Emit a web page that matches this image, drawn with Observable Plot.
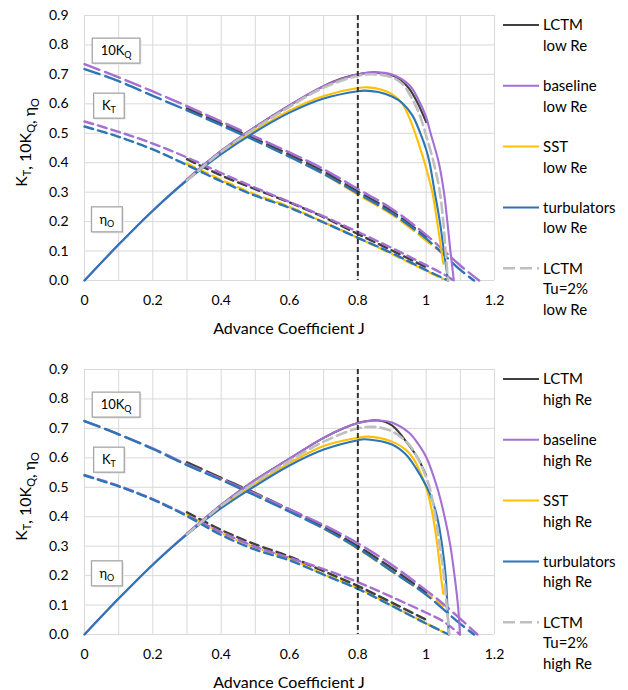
<!DOCTYPE html>
<html><head><meta charset="utf-8">
<script src="https://cdn.jsdelivr.net/npm/d3@7"></script>
<script src="https://cdn.jsdelivr.net/npm/@observablehq/plot@0.6"></script>
<style>
body{margin:0;background:#fff;font-family:Lato,sans-serif;}
#wrap{position:relative;width:628px;height:690px;overflow:hidden;background:#fff}
.chart{position:absolute;left:0}
.legend{position:absolute;left:500px}
</style></head><body><div id="wrap"></div>
<script>
// ---------- categories / ticks ----------
const series = ["LCTM","baseline","SST","turbulators","LCTM Tu=2%"];
const seriesColors = ["#404040","#A66FD4","#FFC000","#2E75B6","#BFBFBF"];
const xTicks = [0,0.2,0.4,0.6,0.8,1,1.2];
const xGrid = [0,0.1,0.2,0.3,0.4,0.5,0.6,0.7,0.8,0.9,1.0,1.1,1.2];
const yTicks = [0,0.1,0.2,0.3,0.4,0.5,0.6,0.7,0.8,0.9];
const designJ = [0.8];
const xTitle = "Advance Coefficient J";
const reLabels = ["low Re","high Re"];

// ---------- top chart (low Re): [J, value] ----------
const topEta_LCTM = [[0.3,0.343],[0.4,0.44],[0.5,0.522],[0.6,0.595],[0.7,0.66],[0.75,0.685],[0.8,0.70],[0.85,0.707],[0.9,0.697],[0.925,0.68],[0.95,0.652],[0.975,0.603],[1.0,0.538]];
const topEta_base = [[0,0],[0.1,0.122],[0.2,0.238],[0.3,0.343],[0.4,0.44],[0.5,0.522],[0.6,0.595],[0.7,0.66],[0.8,0.70],[0.85,0.707],[0.9,0.70],[0.95,0.665],[0.975,0.62],[1.0,0.555],[1.013,0.50],[1.037,0.40],[1.052,0.30],[1.062,0.20],[1.071,0.10],[1.081,0]];
const topEta_SST = [[0.3,0.34],[0.4,0.433],[0.5,0.51],[0.6,0.577],[0.7,0.627],[0.8,0.654],[0.83,0.656],[0.87,0.648],[0.9,0.633],[0.93,0.60],[0.95,0.555],[0.968,0.50],[0.985,0.44],[0.998,0.39],[1.018,0.30],[1.032,0.20],[1.045,0.10],[1.05,0.057]];
const topEta_turb = [[0,0],[0.1,0.122],[0.2,0.237],[0.3,0.34],[0.4,0.429],[0.5,0.505],[0.6,0.57],[0.7,0.618],[0.8,0.643],[0.82,0.645],[0.86,0.64],[0.9,0.625],[0.93,0.603],[0.96,0.56],[0.983,0.50],[1.0,0.445],[1.01,0.40],[1.025,0.30],[1.04,0.20],[1.052,0.10],[1.064,0]];
const topEta_Tu2 = [[0.3,0.34],[0.4,0.437],[0.5,0.517],[0.6,0.59],[0.7,0.655],[0.8,0.695],[0.85,0.70],[0.9,0.69],[0.93,0.668],[0.96,0.615],[0.98,0.565],[0.998,0.50],[1.022,0.40],[1.04,0.30],[1.05,0.20],[1.057,0.10],[1.064,0]];

const topKT_LCTM = [[0.3,0.412],[0.4,0.357],[0.5,0.31],[0.6,0.265],[0.7,0.215],[0.8,0.158],[0.9,0.102],[1.0,0.045]];
const topKT_base = [[0,0.54],[0.1,0.505],[0.2,0.465],[0.3,0.418],[0.4,0.365],[0.5,0.315],[0.6,0.267],[0.7,0.218],[0.8,0.165],[0.9,0.11],[1.0,0.052],[1.05,0.022],[1.081,0]];
const topKT_SST = [[0.3,0.397],[0.4,0.342],[0.5,0.292],[0.6,0.25],[0.7,0.198],[0.8,0.145],[0.9,0.09],[1.0,0.033],[1.05,0.005]];
const topKT_turb = [[0,0.523],[0.1,0.488],[0.2,0.445],[0.3,0.392],[0.4,0.337],[0.5,0.288],[0.6,0.247],[0.7,0.197],[0.8,0.145],[0.9,0.093],[1.0,0.035],[1.064,0]];

const topKQ_LCTM = [[0.3,0.585],[0.4,0.533],[0.5,0.481],[0.6,0.428],[0.7,0.37],[0.8,0.302],[0.9,0.235],[1.0,0.148]];
const topKQ_base = [[0,0.735],[0.1,0.69],[0.2,0.642],[0.3,0.592],[0.4,0.54],[0.5,0.488],[0.6,0.435],[0.7,0.378],[0.8,0.311],[0.9,0.243],[1.0,0.155],[1.1,0.051],[1.155,0]];
const topKQ_SST = [[0.3,0.583],[0.4,0.53],[0.5,0.477],[0.6,0.422],[0.7,0.362],[0.8,0.292],[0.9,0.224],[1.0,0.136],[1.05,0.09]];
const topKQ_turb = [[0,0.718],[0.1,0.677],[0.2,0.627],[0.3,0.578],[0.4,0.527],[0.5,0.475],[0.6,0.42],[0.7,0.362],[0.8,0.296],[0.9,0.228],[1.0,0.142],[1.1,0.036],[1.14,0]];

// ---------- bottom chart (high Re) ----------
const botEta_LCTM = [[0.3,0.343],[0.4,0.44],[0.5,0.525],[0.6,0.597],[0.7,0.668],[0.8,0.718],[0.86,0.727],[0.9,0.71],[0.95,0.642],[0.975,0.60],[1.0,0.54]];
const botEta_base = [[0,0],[0.1,0.122],[0.2,0.238],[0.3,0.343],[0.4,0.44],[0.5,0.525],[0.6,0.597],[0.7,0.668],[0.8,0.718],[0.866,0.727],[0.9,0.72],[0.95,0.685],[0.975,0.65],[1.0,0.603],[1.032,0.50],[1.054,0.40],[1.071,0.30],[1.083,0.20],[1.093,0.10],[1.099,0]];
const botEta_SST = [[0.3,0.34],[0.4,0.433],[0.5,0.512],[0.6,0.582],[0.7,0.64],[0.8,0.668],[0.83,0.672],[0.9,0.655],[0.94,0.628],[0.964,0.595],[0.983,0.55],[1.0,0.50],[1.02,0.40],[1.033,0.30],[1.043,0.20],[1.05,0.138]];
const botEta_turb = [[0,0],[0.1,0.122],[0.2,0.237],[0.3,0.34],[0.4,0.429],[0.5,0.505],[0.6,0.574],[0.7,0.628],[0.8,0.66],[0.82,0.663],[0.9,0.645],[0.94,0.612],[0.97,0.565],[1.01,0.48],[1.032,0.40],[1.047,0.30],[1.057,0.20],[1.062,0.10],[1.066,0]];
const botEta_Tu2 = [[0.3,0.34],[0.4,0.437],[0.5,0.517],[0.6,0.59],[0.7,0.655],[0.8,0.70],[0.85,0.705],[0.9,0.69],[0.95,0.645],[0.983,0.58],[1.01,0.50],[1.027,0.40],[1.04,0.30],[1.052,0.20],[1.06,0.10],[1.068,0]];

const botKT_LCTM = [[0.3,0.415],[0.4,0.355],[0.5,0.306],[0.6,0.265],[0.7,0.215],[0.8,0.165],[0.9,0.108],[1.0,0.05]];
const botKT_base = [[0,0.542],[0.1,0.505],[0.2,0.46],[0.3,0.405],[0.4,0.348],[0.5,0.298],[0.6,0.26],[0.7,0.222],[0.8,0.178],[0.9,0.127],[1.0,0.074],[1.05,0.045],[1.099,0]];
const botKT_SST = [[0.3,0.41],[0.4,0.345],[0.5,0.295],[0.6,0.258],[0.7,0.205],[0.8,0.158],[0.9,0.098],[1.0,0.038],[1.05,0.008]];
const botKT_turb = [[0,0.54],[0.1,0.503],[0.2,0.458],[0.3,0.402],[0.4,0.338],[0.5,0.288],[0.6,0.252],[0.7,0.203],[0.8,0.155],[0.9,0.097],[1.0,0.037],[1.066,0]];

const botKQ_LCTM = [[0.3,0.585],[0.4,0.532],[0.5,0.48],[0.6,0.425],[0.7,0.367],[0.8,0.30],[0.9,0.225],[1.0,0.142]];
const botKQ_base = [[0,0.725],[0.1,0.68],[0.2,0.632],[0.3,0.578],[0.4,0.528],[0.5,0.478],[0.6,0.425],[0.7,0.372],[0.8,0.31],[0.9,0.236],[1.0,0.15],[1.05,0.104],[1.1,0.053],[1.15,0]];
const botKQ_SST = [[0.3,0.583],[0.4,0.53],[0.5,0.477],[0.6,0.42],[0.7,0.36],[0.8,0.292],[0.9,0.215],[1.0,0.138],[1.05,0.098]];
const botKQ_turb = [[0,0.725],[0.1,0.68],[0.2,0.63],[0.3,0.575],[0.4,0.525],[0.5,0.472],[0.6,0.417],[0.7,0.36],[0.8,0.293],[0.9,0.215],[1.0,0.135],[1.1,0.036],[1.14,0]];

// ---------- in-plot labels (J, value) ----------
const annotations = [
  {main:"10K", sub:"Q", J:0.094, v:0.779},
  {main:"K", sub:"T", J:0.073, v:0.592},
  {main:"\u03B7", sub:"O", J:0.067, v:0.206}
];

// ---------- build ----------
const charts = [
  {top:0, re:reLabels[0],
   eta:{"LCTM":topEta_LCTM,"baseline":topEta_base,"SST":topEta_SST,"turbulators":topEta_turb,"LCTM Tu=2%":topEta_Tu2},
   kt:{"LCTM":topKT_LCTM,"baseline":topKT_base,"SST":topKT_SST,"turbulators":topKT_turb},
   kq:{"LCTM":topKQ_LCTM,"baseline":topKQ_base,"SST":topKQ_SST,"turbulators":topKQ_turb}},
  {top:354, re:reLabels[1],
   eta:{"LCTM":botEta_LCTM,"baseline":botEta_base,"SST":botEta_SST,"turbulators":botEta_turb,"LCTM Tu=2%":botEta_Tu2},
   kt:{"LCTM":botKT_LCTM,"baseline":botKT_base,"SST":botKT_SST,"turbulators":botKT_turb},
   kq:{"LCTM":botKQ_LCTM,"baseline":botKQ_base,"SST":botKQ_SST,"turbulators":botKQ_turb}}
];
const drawOrder = ["SST","LCTM","baseline","turbulators","LCTM Tu=2%"];

function rowsOf(group, kind){
  const out=[];
  for (const s of drawOrder){ const a=group[s]; if(!a) continue;
    for (const [J,v] of a) out.push({J,v,series:s,id:kind+s}); }
  return out;
}

const wrap = document.getElementById("wrap");
const W = 500, H = 336;

for (const c of charts){
  const kq = rowsOf(c.kq,"kq"), kt = rowsOf(c.kt,"kt"), eta = rowsOf(c.eta,"eta");
  const plot = Plot.plot({
    width: W, height: H,
    marginLeft: 84, marginRight: 6, marginTop: 15, marginBottom: H - 280,
    style: "font-family: Lato, sans-serif; font-size: 14px; color: #000; background: #fff; overflow: visible;",
    x: {domain:[0,1.2], ticks: xTicks, tickFormat: d => String(d), tickSize: 0, tickPadding: 15, label: null},
    y: {domain:[0,0.9], ticks: yTicks, tickFormat: d3.format(".1f"), tickSize: 0, tickPadding: 16, label: null},
    color: {domain: series, range: seriesColors},
    marks: [
      Plot.ruleX(xGrid, {stroke:"#D9D9D9", strokeWidth:1}),
      Plot.ruleY(yTicks, {stroke:"#D9D9D9", strokeWidth:1}),
      Plot.line(kq, {x:"J", y:"v", z:"id", stroke:"series", strokeWidth:2.4, strokeDasharray:"16,6", curve:"catmull-rom"}),
      Plot.line(kt, {x:"J", y:"v", z:"id", stroke:"series", strokeWidth:2.4, strokeDasharray:"9,5", curve:"catmull-rom"}),
      Plot.line(eta.filter(r=>r.series!=="LCTM Tu=2%"), {x:"J", y:"v", z:"id", stroke:"series", strokeWidth:2.1, curve:"catmull-rom"}),
      Plot.line(eta.filter(r=>r.series==="LCTM Tu=2%"), {x:"J", y:"v", z:"id", stroke:"series", strokeWidth:2.6, strokeDasharray:"10,5", curve:"catmull-rom"}),
      Plot.ruleX(designJ, {stroke:"#333333", strokeWidth:2, strokeDasharray:"5,3"})
    ]
  });
  const div = document.createElement("div");
  div.className = "chart"; div.style.top = c.top + "px";
  div.appendChild(plot);
  wrap.appendChild(div);
  const svg = d3.select(plot);
  const sx = plot.scale("x"), sy = plot.scale("y");

  // x title
  svg.append("text").attr("x", (sx.apply(0)+sx.apply(1.2))/2).attr("y", 334)
    .attr("text-anchor","middle").attr("style","font-size:16px;font-family:Lato").attr("fill","#000").text(xTitle);
  // y title with subscripts
  const yt = svg.append("text").attr("transform",`translate(27,${(sy.apply(0)+sy.apply(0.9))/2 - 5}) rotate(-90)`)
    .attr("text-anchor","middle").attr("style","font-size:16px;font-family:Lato").attr("fill","#000");
  const parts = [["K","T"],[", 10K","Q"],[", \u03B7","O"]];
  for (const [m,s] of parts){
    yt.append("tspan").text(m);
    yt.append("tspan").attr("dy",4).attr("style","font-size:11px").text(s);
    yt.append("tspan").attr("dy",-4).text("");
  }
  // annotation boxes
  for (const a of annotations){
    const g = svg.append("g");
    const cx = sx.apply(a.J), cy = sy.apply(a.v);
    const t = g.append("text").attr("x", cx).attr("y", cy+4.5)
      .attr("text-anchor","middle").attr("style","font-size:13px;font-family:Lato").attr("fill","#000");
    t.append("tspan").text(a.main);
    t.append("tspan").attr("dy",3).attr("style","font-size:9px").text(a.sub);
    const b = t.node().getBBox();
    const bw = b.width + 16, bh = 25;
    g.insert("rect","text").attr("x", cx - bw/2 + 1.5).attr("y", cy - bh/2 + 1.5).attr("width", bw).attr("height", bh)
      .attr("fill","#E6E6E6");
    g.insert("rect","text").attr("x", cx - bw/2).attr("y", cy - bh/2).attr("width", bw).attr("height", bh)
      .attr("fill","#fff").attr("stroke","#A6A6A6").attr("stroke-width",1.3);
  }

  // legend
  const leg = d3.select(wrap).append("svg").attr("class","legend")
    .attr("width",128).attr("height",H).style("top", c.top + "px");
  const items = [
    {s:"LCTM", lines:["LCTM", c.re]},
    {s:"baseline", lines:["baseline", c.re]},
    {s:"SST", lines:["SST", c.re]},
    {s:"turbulators", lines:["turbulators", c.re]},
    {s:"LCTM Tu=2%", lines:["LCTM","Tu=2%", c.re]}
  ];
  items.forEach((it,i)=>{
    const y = 25 + i*60.8;
    const col = seriesColors[series.indexOf(it.s)];
    const ln = leg.append("line").attr("x1",3).attr("x2",39).attr("y1",y).attr("y2",y)
      .attr("stroke",col).attr("stroke-width", it.s==="LCTM Tu=2%"?2.5:2);
    if (it.s==="LCTM Tu=2%") ln.attr("stroke-dasharray","12,5");
    it.lines.forEach((txt,k)=>{
      leg.append("text").attr("x",43).attr("y", y + 5.3 + k*20.6)
        .attr("style","font-size:15px;font-family:Lato").attr("fill","#000").text(txt);
    });
  });
}
</script>
</body></html>
